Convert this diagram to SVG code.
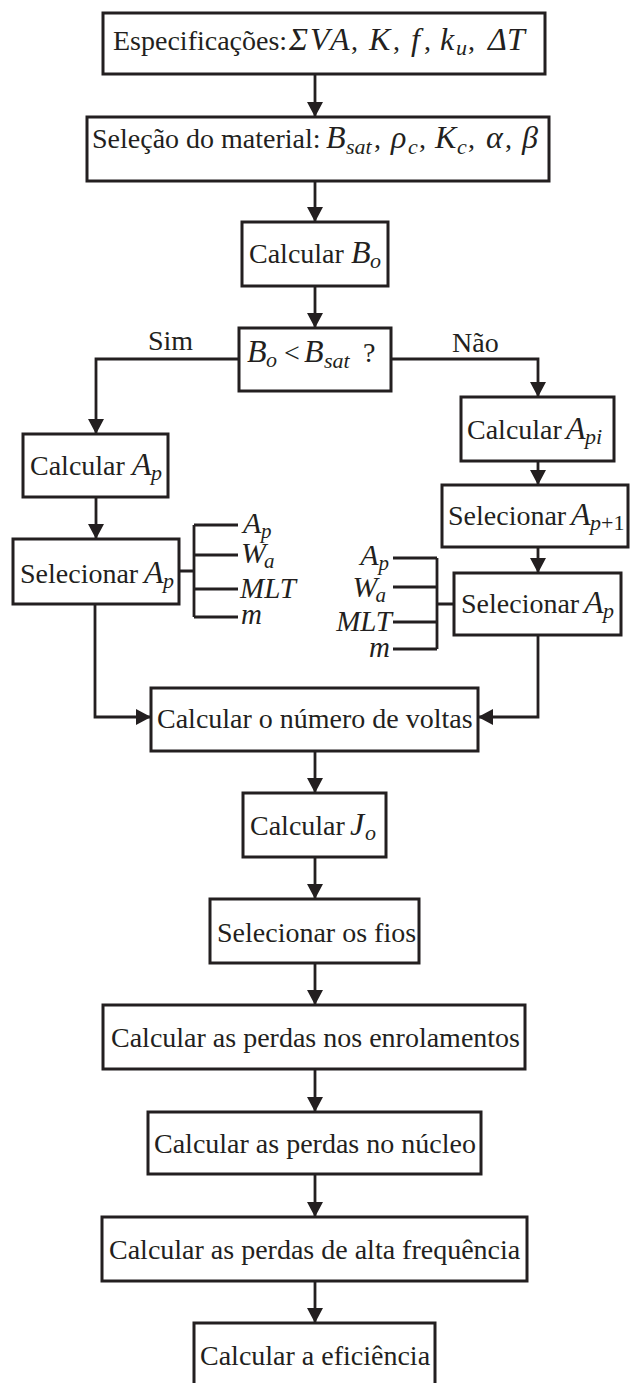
<svg xmlns="http://www.w3.org/2000/svg" width="630" height="1383" viewBox="0 0 630 1383">
  <defs>
    <style>
      .box { fill: #ffffff; stroke: #231f20; stroke-width: 3; }
      .ln { fill: none; stroke: #231f20; stroke-width: 2.8; }
      .t { font-family: "Liberation Serif", "Times New Roman", serif; font-size: 28px; fill: #231f20; }
      .m { font-style: italic; font-size: 32px; }
      .s { font-style: italic; font-size: 22px; }
      .r { font-style: normal; font-size: 22px; }
      .lbl { font-size: 29px; }
      .lbl .m { font-size: 30px; }
      .lbl .s { font-size: 21px; }
    </style>
    <marker id="arrow" markerUnits="userSpaceOnUse" markerWidth="16" markerHeight="16" refX="15" refY="8" orient="auto">
      <path d="M0,0 L15,8 L0,16 z" fill="#231f20"/>
    </marker>
  </defs>
  <rect width="630" height="1383" fill="#ffffff"/>

  <!-- connectors -->
  <g id="connectors">
    <line class="ln" x1="315" y1="75" x2="315" y2="117" marker-end="url(#arrow)"/>
    <line class="ln" x1="315" y1="181" x2="315" y2="222" marker-end="url(#arrow)"/>
    <line class="ln" x1="315" y1="286" x2="315" y2="328" marker-end="url(#arrow)"/>
    <!-- Sim branch -->
    <polyline class="ln" points="239,359 96,359 96,434" marker-end="url(#arrow)"/>
    <line class="ln" x1="96" y1="497" x2="96" y2="539" marker-end="url(#arrow)"/>
    <polyline class="ln" points="95,604 95,717 151,717" marker-end="url(#arrow)"/>
    <!-- Não branch -->
    <polyline class="ln" points="391,359 538,359 538,397" marker-end="url(#arrow)"/>
    <line class="ln" x1="538" y1="461" x2="538" y2="485" marker-end="url(#arrow)"/>
    <line class="ln" x1="538" y1="547" x2="538" y2="573" marker-end="url(#arrow)"/>
    <polyline class="ln" points="538,635 538,717 478,717" marker-end="url(#arrow)"/>
    <!-- main column -->
    <line class="ln" x1="315" y1="751" x2="315" y2="793" marker-end="url(#arrow)"/>
    <line class="ln" x1="315" y1="857" x2="315" y2="899" marker-end="url(#arrow)"/>
    <line class="ln" x1="315" y1="963" x2="315" y2="1005" marker-end="url(#arrow)"/>
    <line class="ln" x1="315" y1="1069" x2="315" y2="1112" marker-end="url(#arrow)"/>
    <line class="ln" x1="315" y1="1174" x2="315" y2="1217" marker-end="url(#arrow)"/>
    <line class="ln" x1="315" y1="1281" x2="315" y2="1323" marker-end="url(#arrow)"/>
    <!-- left parameter bracket -->
    <path class="ln" d="M179,571 H194 M194,525 V617 M194,525 H238 M194,555 H238 M194,589 H238 M194,617 H238"/>
    <!-- right parameter bracket -->
    <path class="ln" d="M454,604 H437 M437,558 V649 M437,558 H393 M437,587 H393 M437,622 H393 M437,649 H393"/>
  </g>

  <g id="labels">
    <text class="t" x="148" y="350">Sim</text>
    <text class="t" x="452" y="352">Não</text>
  </g>

  <g id="especificacoes">
    <rect class="box" x="103" y="13" width="442" height="61"/>
    <text class="t" y="50"><tspan x="113">Especificações:</tspan><tspan class="m" x="289">Σ</tspan><tspan class="m" x="310">V</tspan><tspan class="m" x="330">A</tspan><tspan x="351">,</tspan><tspan class="m" x="369">K</tspan><tspan x="393">,</tspan><tspan class="m" x="411">f</tspan><tspan x="424">,</tspan><tspan class="m" x="440">k</tspan><tspan class="s" x="456" dy="5">u</tspan><tspan x="468" dy="-5">,</tspan><tspan class="m" x="488">Δ</tspan><tspan class="m" x="507">T</tspan></text>
  </g>

  <g id="selecao-material">
    <rect class="box" x="87" y="117" width="462" height="64"/>
    <text class="t" y="148"><tspan x="92">Seleção do material:</tspan><tspan class="m" x="326">B</tspan><tspan class="s" x="346" dy="6">sat</tspan><tspan x="374" dy="-6">,</tspan><tspan class="m" x="391">ρ</tspan><tspan class="s" x="408" dy="6">c</tspan><tspan x="419" dy="-6">,</tspan><tspan class="m" x="435">K</tspan><tspan class="s" x="457" dy="6">c</tspan><tspan x="468" dy="-6">,</tspan><tspan class="m" x="486">α</tspan><tspan x="505">,</tspan><tspan class="m" x="522">β</tspan></text>
  </g>

  <g id="calcular-bo">
    <rect class="box" x="242" y="222" width="146" height="64"/>
    <text class="t" y="263"><tspan x="249">Calcular</tspan><tspan class="m" x="351">B</tspan><tspan class="s" x="370" dy="5">o</tspan></text>
  </g>

  <g id="decisao">
    <rect class="box" x="239" y="328" width="152" height="63"/>
    <text class="t" y="362"><tspan class="m" x="247">B</tspan><tspan class="s" x="266" dy="5">o</tspan><tspan x="284" dy="-5">&lt;</tspan><tspan class="m" x="304">B</tspan><tspan class="s" x="324" dy="6">sat</tspan><tspan x="363" dy="-6">?</tspan></text>
  </g>

  <g id="calcular-ap">
    <rect class="box" x="23" y="434" width="145" height="63"/>
    <text class="t" y="475"><tspan x="30">Calcular</tspan><tspan class="m" x="132">A</tspan><tspan class="s" x="151" dy="5">p</tspan></text>
  </g>

  <g id="selecionar-ap-sim">
    <rect class="box" x="13" y="539" width="166" height="65"/>
    <text class="t" y="583"><tspan x="20">Selecionar</tspan><tspan class="m" x="144">A</tspan><tspan class="s" x="163" dy="5">p</tspan></text>
  </g>

  <g id="parametros-sim">
    <text class="t lbl" y="533"><tspan class="m" x="243">A</tspan><tspan class="s" x="261" dy="5">p</tspan></text>
    <text class="t lbl" y="563"><tspan class="m" x="241">W</tspan><tspan class="s" x="264" dy="5">a</tspan></text>
    <text class="t lbl m" x="240" y="598">MLT</text>
    <text class="t lbl m" x="241" y="624">m</text>
  </g>

  <g id="calcular-api">
    <rect class="box" x="461" y="397" width="153" height="64"/>
    <text class="t" y="439"><tspan x="467">Calcular</tspan><tspan class="m" x="566">A</tspan><tspan class="s" x="585" dy="5">pi</tspan></text>
  </g>

  <g id="selecionar-ap1">
    <rect class="box" x="442" y="485" width="186" height="62"/>
    <text class="t" y="525"><tspan x="448">Selecionar</tspan><tspan class="m" x="571">A</tspan><tspan class="s" x="590" dy="5">p</tspan><tspan class="r">+1</tspan></text>
  </g>

  <g id="selecionar-ap-nao">
    <rect class="box" x="454" y="573" width="167" height="62"/>
    <text class="t" y="613"><tspan x="461">Selecionar</tspan><tspan class="m" x="584">A</tspan><tspan class="s" x="603" dy="5">p</tspan></text>
  </g>

  <g id="parametros-nao">
    <text class="t lbl" x="389" y="565" text-anchor="end"><tspan class="m">A</tspan><tspan class="s" dy="5">p</tspan></text>
    <text class="t lbl" x="386" y="597" text-anchor="end"><tspan class="m">W</tspan><tspan class="s" dx="-2" dy="5">a</tspan></text>
    <text class="t lbl m" x="392" y="631" text-anchor="end">MLT</text>
    <text class="t lbl m" x="390" y="657" text-anchor="end">m</text>
  </g>

  <g id="numero-voltas">
    <rect class="box" x="151" y="688" width="327" height="63"/>
    <text class="t" x="157" y="728">Calcular o número de voltas</text>
  </g>

  <g id="calcular-jo">
    <rect class="box" x="243" y="793" width="143" height="64"/>
    <text class="t" y="835"><tspan x="250">Calcular</tspan><tspan class="m" x="350">J</tspan><tspan class="s" x="365" dy="5">o</tspan></text>
  </g>

  <g id="selecionar-fios">
    <rect class="box" x="210" y="899" width="209" height="64"/>
    <text class="t" x="217" y="942">Selecionar os fios</text>
  </g>

  <g id="perdas-enrolamentos">
    <rect class="box" x="103" y="1005" width="422" height="64"/>
    <text class="t" x="111" y="1047">Calcular as perdas nos enrolamentos</text>
  </g>

  <g id="perdas-nucleo">
    <rect class="box" x="148" y="1112" width="333" height="62"/>
    <text class="t" x="154" y="1153">Calcular as perdas no núcleo</text>
  </g>

  <g id="perdas-alta-frequencia">
    <rect class="box" x="102" y="1217" width="425" height="64"/>
    <text class="t" x="109" y="1259">Calcular as perdas de alta frequência</text>
  </g>

  <g id="eficiencia">
    <rect class="box" x="194" y="1323" width="241" height="66"/>
    <text class="t" x="200" y="1365">Calcular a eficiência</text>
  </g>
</svg>
